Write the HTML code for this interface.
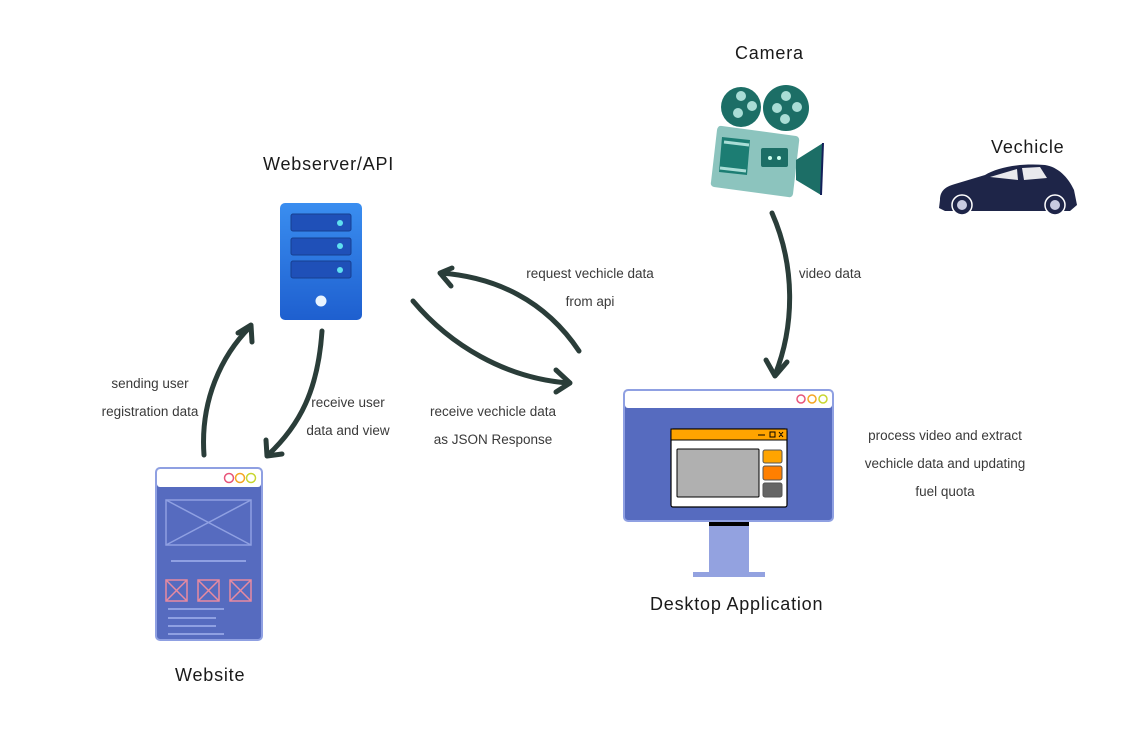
<!DOCTYPE html>
<html><head><meta charset="utf-8"><style>
html,body{margin:0;padding:0;background:#fff;}
body{width:1121px;height:743px;position:relative;overflow:hidden;font-family:"Liberation Sans",sans-serif;}
.t{position:absolute;font-size:18px;letter-spacing:0.8px;color:#1a1a1a;white-space:nowrap;}
.s{position:absolute;font-family:"Liberation Sans Narrow","Liberation Sans",sans-serif;font-size:13.5px;color:#3a3a3a;text-align:center;line-height:28px;white-space:nowrap;}
</style></head><body>
<svg width="1121" height="743" style="position:absolute;left:0;top:0">
<defs>
<linearGradient id="srv" x1="0" y1="0" x2="0" y2="1"><stop offset="0" stop-color="#3a8ef0"/><stop offset="1" stop-color="#1e5fcf"/></linearGradient>
</defs>
<g fill="none" stroke="#2a3d39" stroke-width="5" stroke-linecap="round" stroke-linejoin="round">
<path d="M204,455 C200,400 222,355 250,327"/><path d="M238,333 L251,325 L252,342"/>
<path d="M322,331 C318,390 300,425 268,455"/><path d="M266,440 L267,456 L282,454"/>
<path d="M413,301 C450,345 505,378 568,383"/><path d="M556,370 L570,383 L556,392"/>
<path d="M579,351 C545,300 495,277 441,273"/><path d="M452,268 L440,273 L451,286"/>
<path d="M772,213 C795,265 795,325 775,375"/><path d="M766,360 L775,376 L787,362"/>
</g>
<rect x="280" y="203" width="82" height="117" rx="5" fill="url(#srv)"/>
<g fill="#1f50b8" stroke="#173f90" stroke-width="1"><rect x="291" y="214" width="60" height="17" rx="2"/><rect x="291" y="238" width="60" height="17" rx="2"/><rect x="291" y="261" width="60" height="17" rx="2"/></g>
<g fill="#5fe0f0"><circle cx="340" cy="223" r="3"/><circle cx="340" cy="246" r="3"/><circle cx="340" cy="270" r="3"/></g>
<circle cx="321" cy="301" r="5.5" fill="#e8f4ff"/>
<rect x="156" y="468" width="106" height="172" rx="4" fill="#566bbf" stroke="#8fa0e2" stroke-width="2"/>
<rect x="157" y="469" width="104" height="18" rx="3" fill="#fff"/>
<g fill="none" stroke-width="1.5"><circle cx="229" cy="478" r="4.5" stroke="#e8557a"/><circle cx="240" cy="478" r="4.5" stroke="#f5a623"/><circle cx="251" cy="478" r="4.5" stroke="#c8d630"/></g>
<g stroke="#8fa0e2" stroke-width="1.5" fill="none"><rect x="166" y="500" width="85" height="45"/><path d="M166,500 L251,545 M251,500 L166,545"/></g>
<path d="M171,561 H246 M168,609 H224 M168,618 H216 M168,626 H216 M168,634 H224" stroke="#8fa0e2" stroke-width="2"/>
<g stroke="#e88aa0" stroke-width="1.5" fill="none"><rect x="166" y="580" width="21" height="21"/><path d="M166,580 L187,601 M187,580 L166,601"/><rect x="198" y="580" width="21" height="21"/><path d="M198,580 L219,601 M219,580 L198,601"/><rect x="230" y="580" width="21" height="21"/><path d="M230,580 L251,601 M251,580 L230,601"/></g>
<rect x="709" y="520" width="40" height="52" fill="#93a2e0"/>
<rect x="709" y="520" width="40" height="6" fill="#000"/>
<rect x="693" y="572" width="72" height="5" fill="#93a2e0"/>
<rect x="624" y="390" width="209" height="131" rx="4" fill="#566bbf" stroke="#8fa0e2" stroke-width="2"/>
<rect x="625" y="391" width="207" height="17" rx="3" fill="#fff"/>
<g fill="none" stroke-width="1.5"><circle cx="801" cy="399" r="4" stroke="#e8557a"/><circle cx="812" cy="399" r="4" stroke="#f5a623"/><circle cx="823" cy="399" r="4" stroke="#c8d630"/></g>
<rect x="671" y="429" width="116" height="78" rx="2" fill="#fff" stroke="#000" stroke-width="1.2"/>
<rect x="671" y="429" width="116" height="11" fill="#ffa400" stroke="#000" stroke-width="1"/>
<path d="M758,435 H765 M770,432 h5 v5 h-5 z M779,432 l4,5 M783,432 l-4,5" stroke="#000" stroke-width="1" fill="none"/>
<rect x="677" y="449" width="82" height="48" rx="1" fill="#b0b0b0" stroke="#000" stroke-width="1"/>
<rect x="763" y="450" width="19" height="13" rx="2" fill="#ffa400" stroke="#555"/>
<rect x="763" y="466" width="19" height="14" rx="2" fill="#ff7f00" stroke="#555"/>
<rect x="763" y="483" width="19" height="14" rx="2" fill="#656565" stroke="#555"/>
<circle cx="741" cy="107" r="20" fill="#1c6e66"/><circle cx="786" cy="108" r="23" fill="#1c6e66"/>
<g fill="#a9ddd6"><circle cx="741" cy="96" r="5"/><circle cx="752" cy="106" r="5"/><circle cx="738" cy="113" r="5"/><circle cx="786" cy="96" r="5"/><circle cx="797" cy="107" r="5"/><circle cx="777" cy="108" r="5"/><circle cx="785" cy="119" r="5"/></g>
<path d="M722,126 L796,136 Q800,137 799,142 L793,194 Q792,198 788,197 L714,187 Q710,186 711,182 L717,130 Q718,125 722,126 Z" fill="#8cc4be"/>
<path d="M722,137 L750,140 L747,175 L719,172 Z" fill="#1c7d73"/>
<path d="M724,142 L749,145 M720,168 L746,171" stroke="#a9ddd6" stroke-width="3"/>
<rect x="761" y="148" width="27" height="19" rx="2" fill="#1c6e66"/>
<circle cx="770" cy="158" r="2" fill="#cfe"/><circle cx="779" cy="158" r="2" fill="#cfe"/>
<path d="M796,160 L823,143 L821,195 L796,180 Z" fill="#1c6e66"/><path d="M823,143 L821,195" stroke="#14205a" stroke-width="2"/>
<path d="M940,200 C940,192 944,187 955,184 L985,175 C998,167 1020,163 1045,165 C1058,167 1068,177 1074,190 L1077,205 L1070,211 H945 L939,208 Z" fill="#1e2548"/>
<path d="M990,177 L1017,169 L1018,180 Z M1022,168 L1040,167 L1047,178 L1024,180 Z" fill="#fff" opacity="0.9"/>
<g fill="#1e2548" stroke="#fff" stroke-width="1.5"><circle cx="962" cy="205" r="10"/><circle cx="1055" cy="205" r="10"/></g>
<g fill="#c8cbe0"><circle cx="962" cy="205" r="5"/><circle cx="1055" cy="205" r="5"/></g>
</svg>
<div class="t" style="left:263px;top:154px">Webserver/API</div>
<div class="t" style="left:735px;top:43px">Camera</div>
<div class="t" style="left:991px;top:137px">Vechicle</div>
<div class="t" style="left:175px;top:665px">Website</div>
<div class="t" style="left:650px;top:594px">Desktop Application</div>
<div class="s" style="left:95px;top:370px;width:110px">sending user<br>registration data</div>
<div class="s" style="left:298px;top:389px;width:100px">receive user<br>data and view</div>
<div class="s" style="left:418px;top:398px;width:150px">receive vechicle data<br>as JSON Response</div>
<div class="s" style="left:515px;top:260px;width:150px">request vechicle data<br>from api</div>
<div class="s" style="left:790px;top:260px;width:80px">video data</div>
<div class="s" style="left:855px;top:422px;width:180px">process video and extract<br>vechicle data and updating<br>fuel quota</div>
</body></html>
